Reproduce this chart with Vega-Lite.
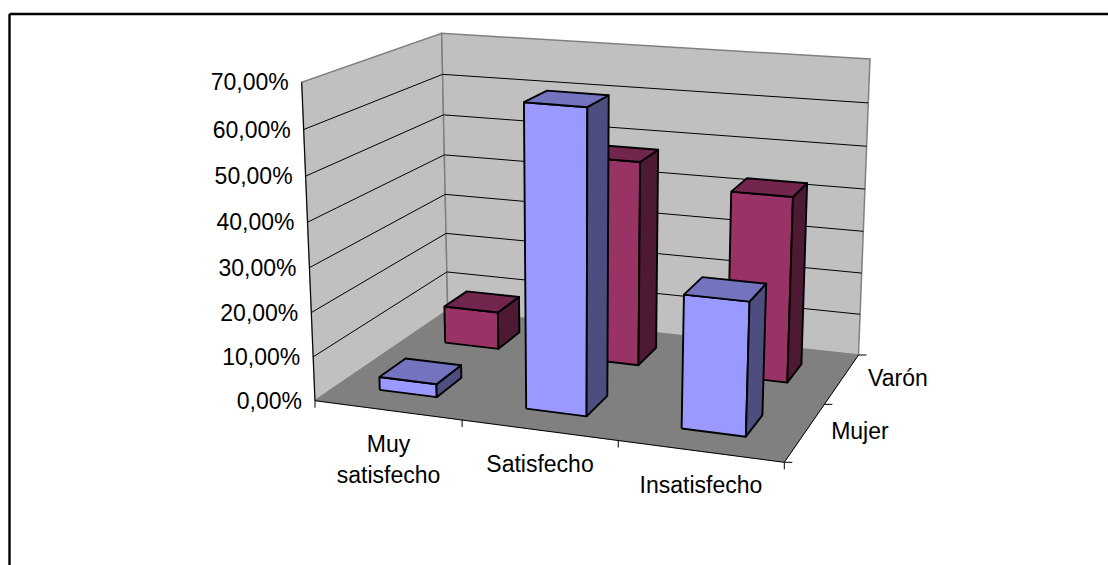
{"$schema":"https://vega.github.io/schema/vega-lite/v6.json","width":1099,"height":551.5,"autosize":"none","padding":{"left":9,"top":13.5,"right":0,"bottom":0},"background":"white","config":{"view":{"stroke":null}},
"data":{"values":[{"category":"Muy satisfecho","series":"Varón","value":9},{"category":"Satisfecho","series":"Varón","value":48},{"category":"Insatisfecho","series":"Varón","value":43},{"category":"Muy satisfecho","series":"Mujer","value":3},{"category":"Satisfecho","series":"Mujer","value":67.2},{"category":"Insatisfecho","series":"Mujer","value":29.4}]},
"encoding":{"x":{"field":"px","type":"quantitative","scale":{"domain":[9,1108],"nice":false,"zero":false},"axis":{"orient":"top","title":null,"labels":false,"ticks":false,"grid":false,"domain":true,"domainColor":"#000000","domainWidth":2.4}},"y":{"field":"py","type":"quantitative","scale":{"domain":[565,13.5],"nice":false,"zero":false},"axis":{"orient":"left","title":null,"labels":false,"ticks":false,"grid":false,"domain":true,"domainColor":"#000000","domainWidth":2.4}}},
"layer":[
{"data":{"values":[{"face":"lateral"},{"face":"fondo"},{"face":"suelo"}]},
"transform":[{"calculate":"[0,1,2,3,4]","as":"i"},{"flatten":["i"]},{"calculate":"datum.i%4","as":"k"},{"calculate":"(datum.k==1||datum.k==2)?1:0","as":"a"},{"calculate":"datum.k>=2?1:0","as":"b"},
{"calculate":"datum.face==='lateral'?0:datum.a","as":"u"},{"calculate":"datum.face==='lateral'?datum.a:(datum.face==='fondo'?1:datum.b)","as":"v"},{"calculate":"datum.face==='suelo'?0:datum.b","as":"w"},
{"calculate":"datum.u/(1+0.095*(1-datum.u))","as":"uw"},{"calculate":"datum.v*1.174/(1+0.174*datum.v)","as":"vw"},{"calculate":"datum.w/(1+0.045*(1-datum.w))","as":"ww"},
{"calculate":"(1-datum.vw)*((1-datum.uw)*315+datum.uw*784.3)+datum.vw*((1-datum.uw)*447.7+datum.uw*858.5)","as":"xb"},{"calculate":"(1-datum.vw)*((1-datum.uw)*301.7+datum.uw*796)+datum.vw*((1-datum.uw)*441.7+datum.uw*870)","as":"xt"},{"calculate":"(1-datum.vw)*((1-datum.uw)*400.7+datum.uw*462.3)+datum.vw*((1-datum.uw)*310+datum.uw*355)","as":"yb"},{"calculate":"(1-datum.vw)*((1-datum.uw)*82.3+datum.uw*122)+datum.vw*((1-datum.uw)*33.3+datum.uw*59)","as":"yt"},{"calculate":"datum.xb+datum.ww*(datum.xt-datum.xb)","as":"px"},{"calculate":"datum.yb+datum.ww*(datum.yt-datum.yb)","as":"py"}],
"layer":[
{"transform":[{"filter":"datum.face!=='suelo'"}],"mark":{"type":"line","fill":"#c0c0c0","stroke":"#808080","strokeWidth":1.5},"encoding":{"detail":{"field":"face"},"order":{"field":"i"}}},
{"transform":[{"filter":"datum.face==='suelo'"}],"mark":{"type":"line","fill":"#808080","stroke":"#808080","strokeWidth":0.5},"encoding":{"detail":{"field":"face"},"order":{"field":"i"}}}
]},
{"data":{"values":[{"tick":10},{"tick":20},{"tick":30},{"tick":40},{"tick":50},{"tick":60},{"tick":70}]},
"transform":[{"calculate":"[0,1,2]","as":"i"},{"flatten":["i"]},{"calculate":"datum.i==2?1:0","as":"u"},{"calculate":"datum.i>=1?1:0","as":"v"},{"calculate":"datum.tick/70","as":"w"},
{"calculate":"datum.u/(1+0.095*(1-datum.u))","as":"uw"},{"calculate":"datum.v*1.174/(1+0.174*datum.v)","as":"vw"},{"calculate":"datum.w/(1+0.045*(1-datum.w))","as":"ww"},
{"calculate":"(1-datum.vw)*((1-datum.uw)*315+datum.uw*784.3)+datum.vw*((1-datum.uw)*447.7+datum.uw*858.5)","as":"xb"},{"calculate":"(1-datum.vw)*((1-datum.uw)*301.7+datum.uw*796)+datum.vw*((1-datum.uw)*441.7+datum.uw*870)","as":"xt"},{"calculate":"(1-datum.vw)*((1-datum.uw)*400.7+datum.uw*462.3)+datum.vw*((1-datum.uw)*310+datum.uw*355)","as":"yb"},{"calculate":"(1-datum.vw)*((1-datum.uw)*82.3+datum.uw*122)+datum.vw*((1-datum.uw)*33.3+datum.uw*59)","as":"yt"},{"calculate":"datum.xb+datum.ww*(datum.xt-datum.xb)","as":"px"},{"calculate":"datum.yb+datum.ww*(datum.yt-datum.yb)","as":"py"},{"filter":"datum.tick<70"}],
"mark":{"type":"line","stroke":"#000000","strokeWidth":1},"encoding":{"detail":{"field":"tick"},"order":{"field":"i"}}},
{"data":{"values":[{"edge":"valor"},{"edge":"categoria"},{"edge":"serie"}]},
"transform":[{"calculate":"[0,1]","as":"i"},{"flatten":["i"]},{"calculate":"datum.edge==='valor'?0:(datum.edge==='categoria'?datum.i:1)","as":"u"},{"calculate":"datum.edge==='serie'?datum.i:0","as":"v"},{"calculate":"datum.edge==='valor'?datum.i:0","as":"w"},
{"calculate":"datum.u/(1+0.095*(1-datum.u))","as":"uw"},{"calculate":"datum.v*1.174/(1+0.174*datum.v)","as":"vw"},{"calculate":"datum.w/(1+0.045*(1-datum.w))","as":"ww"},
{"calculate":"(1-datum.vw)*((1-datum.uw)*315+datum.uw*784.3)+datum.vw*((1-datum.uw)*447.7+datum.uw*858.5)","as":"xb"},{"calculate":"(1-datum.vw)*((1-datum.uw)*301.7+datum.uw*796)+datum.vw*((1-datum.uw)*441.7+datum.uw*870)","as":"xt"},{"calculate":"(1-datum.vw)*((1-datum.uw)*400.7+datum.uw*462.3)+datum.vw*((1-datum.uw)*310+datum.uw*355)","as":"yb"},{"calculate":"(1-datum.vw)*((1-datum.uw)*82.3+datum.uw*122)+datum.vw*((1-datum.uw)*33.3+datum.uw*59)","as":"yt"},{"calculate":"datum.xb+datum.ww*(datum.xt-datum.xb)","as":"px"},{"calculate":"datum.yb+datum.ww*(datum.yt-datum.yb)","as":"py"}],
"mark":{"type":"line","stroke":"#000000","strokeWidth":1},"encoding":{"detail":{"field":"edge"},"order":{"field":"i"}}},
{"transform":[{"calculate":"indexof(['Muy satisfecho','Satisfecho','Insatisfecho'],datum.category)","as":"c"},{"calculate":"(datum.c+0.5)/3-0.003","as":"cu"},{"calculate":"datum.series==='Mujer'?0.25:0.75","as":"cv"},{"calculate":"datum.value/70","as":"h"},{"calculate":"['frente','lado','tapa']","as":"face"},{"flatten":["face"]},{"calculate":"[0,1,2,3,4]","as":"i"},{"flatten":["i"]},{"calculate":"datum.i%4","as":"k"},{"calculate":"(datum.k==1||datum.k==2)?1:0","as":"a"},{"calculate":"datum.k>=2?1:0","as":"b"},
{"calculate":"datum.face==='lado'?datum.cu+0.066:datum.cu-0.066+0.132*datum.a","as":"u"},{"calculate":"datum.face==='frente'?datum.cv-0.095:(datum.face==='lado'?datum.cv-0.095+0.19*datum.a:datum.cv-0.095+0.19*datum.b)","as":"v"},{"calculate":"datum.face==='tapa'?datum.h:datum.h*datum.b","as":"w"},
{"calculate":"datum.u/(1+0.095*(1-datum.u))","as":"uw"},{"calculate":"datum.v*1.174/(1+0.174*datum.v)","as":"vw"},{"calculate":"datum.w/(1+0.045*(1-datum.w))","as":"ww"},
{"calculate":"(1-datum.vw)*((1-datum.uw)*315+datum.uw*784.3)+datum.vw*((1-datum.uw)*447.7+datum.uw*858.5)","as":"xb"},{"calculate":"(1-datum.vw)*((1-datum.uw)*301.7+datum.uw*796)+datum.vw*((1-datum.uw)*441.7+datum.uw*870)","as":"xt"},{"calculate":"(1-datum.vw)*((1-datum.uw)*400.7+datum.uw*462.3)+datum.vw*((1-datum.uw)*310+datum.uw*355)","as":"yb"},{"calculate":"(1-datum.vw)*((1-datum.uw)*82.3+datum.uw*122)+datum.vw*((1-datum.uw)*33.3+datum.uw*59)","as":"yt"},{"calculate":"datum.xb+datum.ww*(datum.xt-datum.xb)","as":"px"},{"calculate":"datum.yb+datum.ww*(datum.yt-datum.yb)","as":"py"},
{"calculate":"datum.series==='Mujer'?(datum.face==='frente'?'#9999ff':(datum.face==='tapa'?'#7373bf':'#4d4d80')):(datum.face==='frente'?'#993366':(datum.face==='tapa'?'#73264d':'#4d1933'))","as":"tone"},{"calculate":"datum.series+'|'+datum.category+'|'+datum.face","as":"key"}],
"mark":{"type":"line","stroke":"#000000","strokeWidth":1.9,"strokeJoin":"round"},"encoding":{"fill":{"field":"tone","type":"nominal","scale":null},"detail":{"field":"key"},"order":{"field":"i"}}},
{"data":{"values":[{"axis":"valor","pos":0,"label":"0,00%"},{"axis":"valor","pos":1,"label":"10,00%"},{"axis":"valor","pos":2,"label":"20,00%"},{"axis":"valor","pos":3,"label":"30,00%"},{"axis":"valor","pos":4,"label":"40,00%"},{"axis":"valor","pos":5,"label":"50,00%"},{"axis":"valor","pos":6,"label":"60,00%"},{"axis":"valor","pos":7,"label":"70,00%"},{"axis":"categoria","pos":0},{"axis":"categoria","pos":1},{"axis":"categoria","pos":2},{"axis":"categoria","pos":3},{"axis":"categoria","pos":0.5,"label":"Muy satisfecho"},{"axis":"categoria","pos":1.5,"label":"Satisfecho"},{"axis":"categoria","pos":2.5,"label":"Insatisfecho"},{"axis":"serie","pos":0},{"axis":"serie","pos":1},{"axis":"serie","pos":2},{"axis":"serie","pos":0.5,"label":"Mujer"},{"axis":"serie","pos":1.5,"label":"Varón"}]},
"transform":[{"calculate":"datum.axis==='categoria'?datum.pos/3:(datum.axis==='serie'?1:0)","as":"u"},{"calculate":"datum.axis==='serie'?datum.pos/2:0","as":"v"},{"calculate":"datum.axis==='valor'?datum.pos/7:0","as":"w"},
{"calculate":"datum.u/(1+0.095*(1-datum.u))","as":"uw"},{"calculate":"datum.v*1.174/(1+0.174*datum.v)","as":"vw"},{"calculate":"datum.w/(1+0.045*(1-datum.w))","as":"ww"},
{"calculate":"(1-datum.vw)*((1-datum.uw)*315+datum.uw*784.3)+datum.vw*((1-datum.uw)*447.7+datum.uw*858.5)","as":"xb"},{"calculate":"(1-datum.vw)*((1-datum.uw)*301.7+datum.uw*796)+datum.vw*((1-datum.uw)*441.7+datum.uw*870)","as":"xt"},{"calculate":"(1-datum.vw)*((1-datum.uw)*400.7+datum.uw*462.3)+datum.vw*((1-datum.uw)*310+datum.uw*355)","as":"yb"},{"calculate":"(1-datum.vw)*((1-datum.uw)*82.3+datum.uw*122)+datum.vw*((1-datum.uw)*33.3+datum.uw*59)","as":"yt"},{"calculate":"datum.xb+datum.ww*(datum.xt-datum.xb)","as":"px"},{"calculate":"datum.yb+datum.ww*(datum.yt-datum.yb)","as":"py"},
{"calculate":"datum.px+(datum.axis==='valor'?-8:(datum.axis==='serie'?8:0))","as":"px2"},{"calculate":"datum.py+(datum.axis==='categoria'?7:0)","as":"py2"}],
"layer":[
{"transform":[{"filter":"!datum.label"}],"mark":{"type":"rule","color":"#000000","strokeWidth":1},"encoding":{"x2":{"field":"px2"},"y2":{"field":"py2"}}},
{"transform":[{"filter":"datum.label&&datum.axis==='valor'"}],"mark":{"type":"text","font":"Liberation Sans","fontSize":23,"color":"#000000","align":"right","baseline":"alphabetic","dx":-13,"dy":8},"encoding":{"text":{"field":"label"}}},
{"transform":[{"filter":"datum.label&&datum.axis==='categoria'"}],"mark":{"type":"text","font":"Liberation Sans","fontSize":23,"color":"#000000","align":"center","baseline":"alphabetic","dx":1,"dy":42,"lineBreak":" ","lineHeight":31},"encoding":{"text":{"field":"label"}}},
{"transform":[{"filter":"datum.label&&datum.axis==='serie'"}],"mark":{"type":"text","font":"Liberation Sans","fontSize":23,"color":"#000000","align":"left","baseline":"alphabetic","dx":26,"dy":7},"encoding":{"text":{"field":"label"}}}
]}
]}
